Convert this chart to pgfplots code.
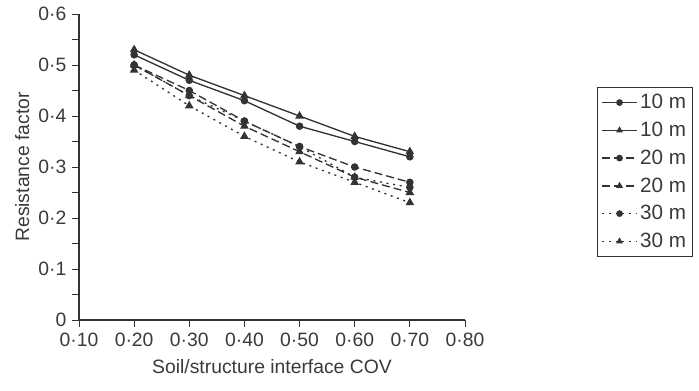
\documentclass[border=0pt]{standalone}
\usepackage{pgfplots}
\pgfplotsset{compat=1.18}
\usepackage{fontspec}
\setmainfont{Liberation Sans}
\definecolor{ln}{HTML}{333333}
\definecolor{tx}{HTML}{3A3A3A}
\begin{document}
\begin{tikzpicture}[x=1pt,y=1pt]
\path (-59.25,-52.5) rectangle (465pt,240pt);
\begin{axis}[
  at={(0,0)}, anchor=origin,
  scale only axis,
  width=289.5pt, height=229.5pt,
  xmin=0.1, xmax=0.8, ymin=0, ymax=0.6,
  axis lines=left,
  axis line style={-, ln, line width=0.8pt},
  tick style={ln, line width=0.7pt},
  tick align=outside,
  major tick length=5pt, minor tick length=5pt,
  xtick={0.1,0.2,0.3,0.4,0.5,0.6,0.7,0.8},
  xticklabels={0·10,0·20,0·30,0·40,0·50,0·60,0·70,0·80},
  ytick={0,0.1,0.2,0.3,0.4,0.5,0.6},
  yticklabels={0,0·1,0·2,0·3,0·4,0·5,0·6},
  minor ytick={0.05,0.15,0.25,0.35,0.45,0.55},
  ticklabel style={font=\fontsize{14.5}{16}\selectfont, text=tx},
  label style={font=\fontsize{14.5}{16}\selectfont, text=tx},
  xticklabel style={yshift=-1pt},
  yticklabel style={xshift=-1pt},
  xlabel={Soil/structure interface COV},
  ylabel={Resistance factor},
  xlabel style={yshift=-3pt},
  ylabel style={yshift=0pt},
  legend style={at={(1.342,0.761)}, anchor=north west, draw=ln, line width=0.8pt,
    font=\fontsize{15.5}{17}\selectfont, text=tx, row sep=4.5pt, inner sep=3pt,
    cells={anchor=west}},
  legend image code/.code={\draw[#1] (0pt,0pt) -- (26pt,0pt); \draw[#1, solid, mark size=2pt] plot coordinates {(13pt,0pt)};},
  every axis plot/.append style={ln, line width=1pt},
]
\addplot[solid, mark=*, mark size=2.3pt] coordinates {(0.2,0.52)(0.3,0.47)(0.4,0.43)(0.5,0.38)(0.6,0.35)(0.7,0.32)};
\addlegendentry{10 m}
\addplot[solid, mark=triangle*, mark size=2.8pt] coordinates {(0.2,0.53)(0.3,0.48)(0.4,0.44)(0.5,0.40)(0.6,0.36)(0.7,0.33)};
\addlegendentry{10 m}
\addplot[dash pattern=on 6pt off 3pt, mark=*, mark size=2.3pt, mark options={solid}] coordinates {(0.2,0.50)(0.3,0.45)(0.4,0.39)(0.5,0.34)(0.6,0.30)(0.7,0.27)};
\addlegendentry{20 m}
\addplot[dash pattern=on 6pt off 3pt, mark=triangle*, mark size=2.8pt, mark options={solid}] coordinates {(0.2,0.50)(0.3,0.44)(0.4,0.38)(0.5,0.33)(0.6,0.28)(0.7,0.25)};
\addlegendentry{20 m}
\addplot[dash pattern=on 1.5pt off 3.5pt, mark=*, mark size=2.3pt, mark options={solid}] coordinates {(0.2,0.50)(0.3,0.44)(0.4,0.39)(0.5,0.34)(0.6,0.28)(0.7,0.26)};
\addlegendentry{30 m}
\addplot[dash pattern=on 1.5pt off 3.5pt, mark=triangle*, mark size=2.8pt, mark options={solid}] coordinates {(0.2,0.49)(0.3,0.42)(0.4,0.36)(0.5,0.31)(0.6,0.27)(0.7,0.23)};
\addlegendentry{30 m}
\end{axis}
\end{tikzpicture}
\end{document}
